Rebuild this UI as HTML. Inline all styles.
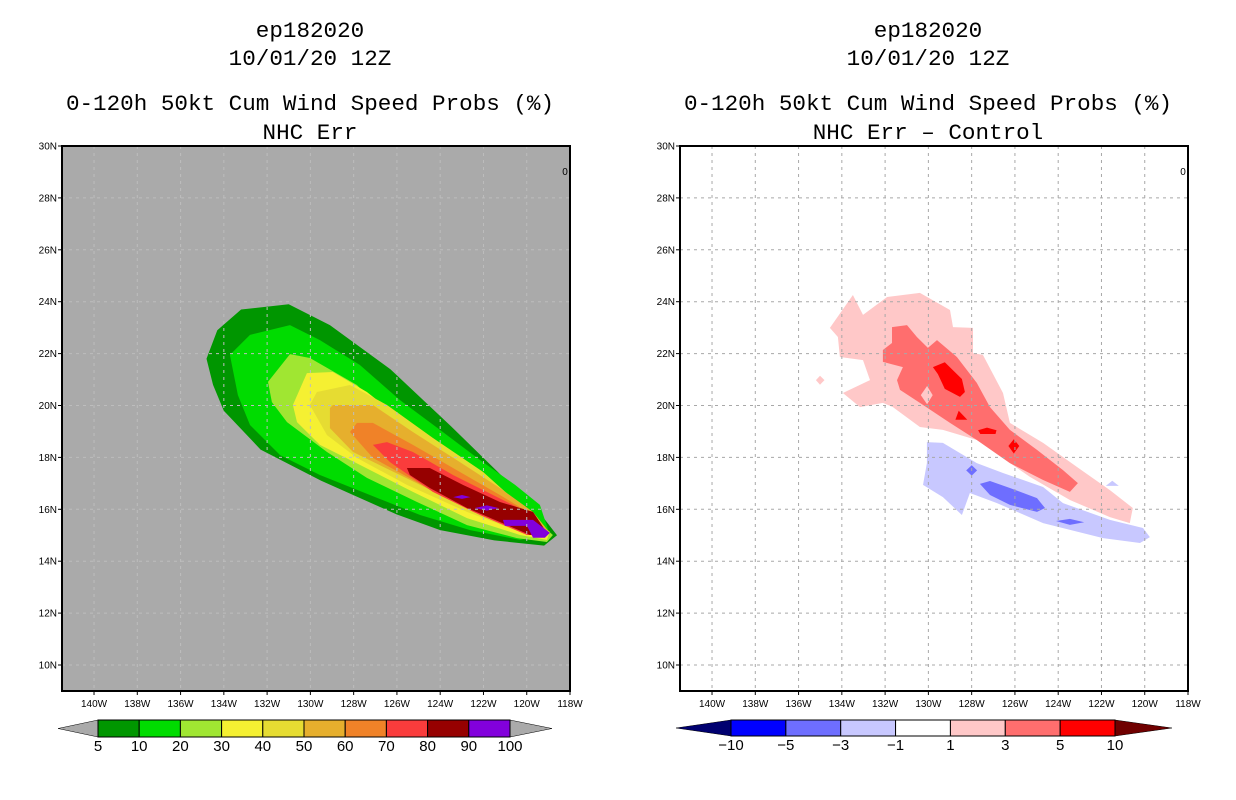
<!DOCTYPE html>
<html><head><meta charset="utf-8">
<style>
html,body{margin:0;padding:0;background:#fff;}
svg{display:block;}
.t{font-family:"Liberation Mono",monospace;font-size:22.6px;fill:#000;text-anchor:middle;}
.tk{font-family:"Liberation Sans",sans-serif;font-size:10px;fill:#000;}
.cb{font-family:"Liberation Sans",sans-serif;font-size:15px;fill:#000;text-anchor:middle;}
</style></head>
<body>
<svg id="fig" width="1236" height="800" viewBox="0 0 1236 800">
<g>
<text class="t" x="310" y="37">ep182020</text>
<text class="t" x="310" y="65">10/01/20 12Z</text>
<text class="t" x="310" y="110">0-120h 50kt Cum Wind Speed Probs (%)</text>
<text class="t" x="310" y="139">NHC Err</text>
</g>
<g>
<text class="t" x="928" y="37">ep182020</text>
<text class="t" x="928" y="65">10/01/20 12Z</text>
<text class="t" x="928" y="110">0-120h 50kt Cum Wind Speed Probs (%)</text>
<text class="t" x="928" y="139">NHC Err – Control</text>
</g>
</svg>
<script>
// ---- data ----
const latTicks=[30,28,26,24,22,20,18,16,14,12,10];
const lonTicks=[140,138,136,134,132,130,128,126,124,122,120,118];
const leftLevels=['5','10','20','30','40','50','60','70','80','90','100'];
const leftColors=['#009600','#00dc00','#a0e632','#f5f032','#e6dc32','#e6af2d','#f08228','#fa3c3c','#960000','#8200dc'];
const rightLevels=['−10','−5','−3','−1','1','3','5','10'];
const rightColors=['#0000ff','#6e6eff','#c8c8ff','#ffffff','#ffc8c8','#ff6e6e','#ff0000'];
// contour polygons [lonW, latN]
const p5=[[134.8,21.8],[134.3,22.9],[133.2,23.7],[131,23.9],[129.1,23.1],[126.3,21.4],[123.5,19.2],[120.8,17.0],[119.9,16.4],[118.6,15.0],[119.2,14.6],[121.5,14.8],[124,15.2],[126,15.8],[129.5,17.1],[132.3,18.3],[134,19.8],[134.5,20.8]];
const p10=[[133.72,21.95],[132.79,22.72],[130.94,23.10],[129.56,22.52],[127.71,21.56],[125.86,20.21],[124.01,19.06],[122.16,17.90],[120.54,16.94],[119.39,16.17],[118.93,15.01],[120.31,14.82],[122.62,15.20],[124.93,15.78],[127.25,16.55],[129.56,17.32],[131.40,18.09],[132.79,19.25],[133.35,20.40]];
const p20=[[131.96,20.91],[130.94,21.98],[130.02,21.83],[127.85,20.79],[126.46,19.63],[124.34,18.21],[122.76,17.32],[121.24,16.67],[119.99,15.90],[118.79,15.01],[119.07,14.74],[120.45,14.89],[122.76,15.39],[125.07,16.28],[127.39,17.21],[129.23,18.21],[131.08,19.36],[131.78,20.13]];
const p30=[[130.81,20.02],[130.16,21.25],[128.96,21.29],[127.39,20.52],[125.86,19.52],[124.01,18.48],[122.02,17.32],[120.31,16.05],[118.93,15.13],[119.07,14.82],[120.31,15.01],[122.76,15.66],[125.26,16.67],[127.71,17.71],[129.56,18.48],[130.62,19.36]];
const p40=[[130.02,20.02],[129.70,20.52],[128.17,20.79],[126.46,20.02],[124.34,18.75],[122.02,17.44],[120.17,16.05],[118.93,15.09],[120.31,15.13],[122.76,15.90],[125.54,16.94],[127.85,17.98],[129.23,18.86]];
const p50=[[129.10,19.90],[128.96,20.02],[127.11,20.02],[125.26,18.98],[123.09,17.82],[121.24,16.82],[119.71,15.90],[118.93,15.09],[119.99,15.09],[122.76,16.05],[125.86,17.32],[128.03,18.21],[129.10,19.13]];
const p60=[[128.17,18.98],[127.85,19.33],[127.11,19.33],[125.26,18.48],[123.41,17.59],[121.24,16.55],[119.71,15.78],[119.07,15.09],[119.99,15.09],[122.48,15.90],[125.07,17.05],[127.11,17.98]];
const p70=[[127.11,18.48],[126.46,18.59],[125.26,18.21],[123.41,17.32],[121.56,16.55],[119.71,15.78],[119.07,15.01],[119.99,15.01],[122.16,15.78],[124.34,16.67],[126.32,17.82]];
const p80=[[125.54,17.59],[124.48,17.59],[122.95,16.94],[121.24,16.28],[119.71,15.90],[119.07,15.09],[119.85,15.01],[120.91,15.39],[122.76,16.05],[124.48,16.82],[125.40,17.32]];
const p90=[[121.10,15.59],[119.71,15.59],[118.93,15.09],[119.16,14.90],[119.71,14.90],[119.99,15.36],[121.01,15.36]];
const p90a=[[123.4,16.47],[122.99,16.55],[122.6,16.47],[122.99,16.40]];
const p90b=[[122.4,16.05],[121.84,16.15],[121.3,16.05],[121.84,15.95]];
const leftPolys=[[p5,0],[p10,1],[p20,2],[p30,3],[p40,4],[p50,5],[p60,6],[p70,7],[p80,8],[p90,9],[p90a,9],[p90b,9]];
const rPink=[[134.55,22.99],[133.49,24.26],[133.02,23.49],[131.91,24.18],[130.39,24.34],[129.00,23.68],[128.86,23.02],[127.94,22.99],[127.94,22.02],[127.48,21.95],[126.55,20.48],[126.23,19.33],[124.70,18.56],[123.13,17.63],[121.61,16.74],[120.55,16.05],[120.69,15.47],[121.61,15.70],[123.46,16.36],[125.31,17.25],[127.76,18.67],[129.33,19.06],[130.39,19.17],[131.64,19.94],[132.10,20.10],[133.16,19.94],[133.95,20.48],[132.70,20.98],[133.02,21.75],[134.09,21.87],[134.18,22.64]];
const rPinkDot=[[135.2,20.98],[135.01,21.15],[134.8,20.98],[135.01,20.8]];
const rRed=[[131.68,23.02],[130.99,23.10],[130.53,22.64],[130.02,22.22],[129.60,22.52],[128.68,21.87],[127.76,20.87],[127.15,19.94],[126.23,19.06],[124.98,18.29],[123.78,17.51],[123.09,17.01],[123.46,16.67],[124.70,17.13],[126.23,17.78],[127.76,18.67],[129.00,19.33],[130.39,20.10],[131.31,20.60],[131.45,20.98],[131.18,21.48],[132.10,21.68],[132.10,22.14],[131.68,22.41]];
const rRedHole=[[130.06,20.75],[129.8,20.4],[130.06,20.05],[130.35,20.4]];
const rBright=[[129.79,21.48],[129.24,21.67],[128.45,21.02],[128.31,20.52],[128.54,20.33],[129.24,20.64],[129.56,21.21]];
const rBright2=[[128.6,19.8],[128.2,19.45],[128.75,19.45]];
const rBright3=[[127.7,19.05],[127.29,19.15],[126.85,19.05],[126.9,18.9],[127.6,18.9]];
const rBright4=[[126.05,18.7],[125.8,18.44],[126.05,18.15],[126.3,18.44]];
const rLBlue=[[130.07,18.59],[129.33,18.56],[127.76,17.78],[126.55,17.40],[124.70,16.86],[123.78,16.24],[121.61,15.59],[120.08,15.28],[119.76,14.93],[120.22,14.70],[121.93,14.89],[124.70,15.47],[126.83,16.24],[128.08,16.63],[128.45,15.78],[129.33,16.47],[130.25,16.94],[130.07,17.78]];
const rLBlueDot=[[121.5,17.1],[121.2,16.9],[121.8,16.9]];
const rMBlue=[[127.62,16.98],[127.15,17.09],[126.23,16.82],[124.98,16.43],[124.61,16.05],[124.98,15.90],[126.23,16.17],[127.15,16.55]];
const rMBlue2=[[128.0,17.7],[127.75,17.5],[128.0,17.3],[128.25,17.5]];
const rMBlue3=[[124.1,15.55],[123.46,15.63],[122.8,15.5],[123.46,15.40]];
const rightPolys=[[rPink,'#ffc8c8'],[rPinkDot,'#ffc8c8'],[rRed,'#ff6e6e'],[rRedHole,'#ffc8c8'],[rBright,'#ff0000'],[rBright2,'#ff0000'],[rBright3,'#ff0000'],[rBright4,'#ff0000'],[rLBlue,'#c8c8ff'],[rLBlueDot,'#c8c8ff'],[rMBlue,'#6e6eff'],[rMBlue2,'#6e6eff'],[rMBlue3,'#6e6eff']];

// ---- axes ----
const NS='http://www.w3.org/2000/svg';
const svg=document.getElementById('fig');
const PLOT_TOP=146, PLOT_BOTTOM=691, PLOT_W=508;
const LON_LEFT=141.48, PX_DEG_X=21.636, PX_DEG_Y=25.95;
function xs(x0,lon){return x0+(LON_LEFT-lon)*PX_DEG_X;}
function ys(lat){return PLOT_TOP+(30-lat)*PX_DEG_Y;}
function mk(tag,attrs,parent){const e=document.createElementNS(NS,tag);for(const k in attrs)e.setAttribute(k,attrs[k]);(parent||svg).appendChild(e);return e;}
function polyStr(x0,pts){return pts.map(p=>xs(x0,p[0]).toFixed(1)+','+ys(p[1]).toFixed(1)).join(' ');}

function panel(x0,side,bg,gridColor,polys,colorFn){
  const g=mk('g',{});
  
  
  const bgR=mk('rect',{x:x0,y:PLOT_TOP,width:PLOT_W,height:PLOT_BOTTOM-PLOT_TOP,fill:bg},g);
  
  
  polys.forEach((pp,i)=>{
    const p=mk('polygon',{points:polyStr(x0,pp[0]),fill:colorFn(pp[1])},g);
    
    
  });
  lonTicks.forEach(l=>{const x=xs(x0,l);if(x>x0+2&&x<x0+PLOT_W-2){const ln=mk('line',{x1:x,x2:x,y1:PLOT_TOP,y2:PLOT_BOTTOM,stroke:gridColor,'stroke-width':1,'stroke-dasharray':'3,4'},g);
    
    }});
  latTicks.forEach(l=>{const y=ys(l);if(y>PLOT_TOP+2){const ln=mk('line',{x1:x0,x2:x0+PLOT_W,y1:y,y2:y,stroke:gridColor,'stroke-width':1,'stroke-dasharray':'3,4'},g);
    
    }});
  const fr=mk('rect',{x:x0,y:PLOT_TOP,width:PLOT_W,height:PLOT_BOTTOM-PLOT_TOP,fill:'none',stroke:'#000','stroke-width':2},g);
  
  
  latTicks.forEach(l=>{const y=ys(l);
    mk('line',{x1:x0-4,x2:x0,y1:y,y2:y,stroke:'#000'},g);
    const t=mk('text',{x:x0-5,y:y+3.5,'text-anchor':'end',class:'tk'},g);t.textContent=l+'N';
    
    });
  lonTicks.forEach(l=>{const x=xs(x0,l);
    mk('line',{x1:x,x2:x,y1:PLOT_BOTTOM,y2:PLOT_BOTTOM+4,stroke:'#000'},g);
    const t=mk('text',{x:x,y:PLOT_BOTTOM+16,'text-anchor':'middle',class:'tk'},g);t.textContent=l+'W';
    
    });
  const ic=mk('text',{x:x0+503,y:175,'text-anchor':'middle',class:'tk','font-size':'8'},g);ic.textContent='0';
  
  
}
panel(62,'left','#aaaaaa','#bdbdbd',leftPolys,i=>leftColors[i]);
panel(680,'right','#ffffff','#a8a8a8',rightPolys,c=>c);

function colorbar(side,x0,x1,tipL,tipR,y0,y1,colors,labels,lc,rc){
  const g=mk('g',{});
  
  
  const ym=(y0+y1)/2, w=(x1-x0)/colors.length;
  const a=mk('polygon',{points:`${tipL},${ym} ${x0},${y0} ${x0},${y1}`,fill:lc,stroke:'#000','stroke-width':0.5},g);
  
  
  const b=mk('polygon',{points:`${tipR},${ym} ${x1},${y0} ${x1},${y1}`,fill:rc,stroke:'#000','stroke-width':0.5},g);
  
  
  colors.forEach((c,i)=>{const r=mk('rect',{x:x0+i*w,y:y0,width:w,height:y1-y0,fill:c,stroke:'#000','stroke-width':1},g);
    
    });
  labels.forEach((l,i)=>{const t=mk('text',{x:x0+i*w,y:y1+14,class:'cb'},g);t.textContent=l;
    
    });
}
colorbar('left',98,510,58,552,720,737,leftColors,leftLevels,'#aaaaaa','#aaaaaa');
colorbar('right',731,1115,676,1172,720,736,rightColors,rightLevels,'#000070','#700000');
</script>
</body></html>
